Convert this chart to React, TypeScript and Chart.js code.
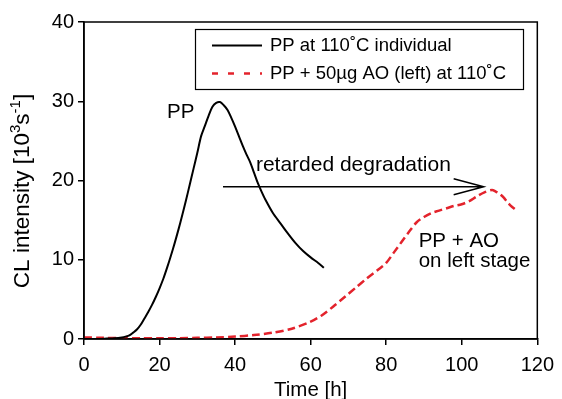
import React, { useEffect, useRef } from "react";
import { Chart, registerables } from "chart.js";

Chart.register(...registerables);

const ppTime = [0, 2, 4, 6, 8, 10, 11, 12, 13, 14, 15, 16, 17, 18, 19, 20, 21, 22, 23, 24, 25, 26, 27, 28, 29, 30, 31, 32, 33, 34, 35, 36, 37, 38, 39, 40, 41, 42, 43, 44, 45, 46, 47, 48, 50, 52, 54, 56, 58, 60, 62, 63.5];
const ppValues = [0, 0, 0, 0.05, 0.1, 0.2, 0.3, 0.45, 0.8, 1.2, 1.8, 2.6, 3.4, 4.3, 5.3, 6.4, 7.6, 9.0, 10.5, 12.1, 13.8, 15.6, 17.5, 19.5, 21.5, 23.5, 25.6, 26.9, 28.2, 29.3, 29.8, 29.9, 29.5, 28.9, 27.9, 26.8, 25.6, 24.4, 23.3, 22.3, 21.0, 19.7, 18.6, 17.6, 15.9, 14.6, 13.3, 12.1, 11.1, 10.3, 9.6, 9.0];

const aoTime = [0, 5, 10, 15, 20, 25, 30, 35, 40, 45, 50, 55, 60, 63, 66, 69, 72, 75, 78, 80, 82, 84, 86, 88, 90, 92, 94, 96, 98, 100, 102, 104, 106, 108, 109, 110, 111, 112, 113, 114];
const aoValues = [0.2, 0.15, 0.1, 0.1, 0.1, 0.1, 0.15, 0.2, 0.3, 0.5, 0.8, 1.3, 2.2, 3.0, 4.1, 5.3, 6.5, 7.7, 8.8, 9.6, 10.9, 12.2, 13.5, 14.7, 15.4, 15.9, 16.2, 16.5, 16.8, 17.0, 17.4, 18.0, 18.5, 18.8, 18.6, 18.3, 17.9, 17.3, 16.8, 16.4];

const seriesLabels = ["PP at 110˚C individual", "PP + 50µg AO (left) at 110˚C"];
const xTicks = [0, 20, 40, 60, 80, 100, 120];
const yTicks = [0, 10, 20, 30, 40];

const arrowFrom = { x: 36.8, y: 19.2 };
const arrowTo = { x: 105.8, y: 19.2 };

const RED = "#e3232c";
const FONT = "'Liberation Sans', Arial, sans-serif";

const overlayPlugin = {
  id: "overlay",
  afterDraw(chart: any) {
    const ctx = chart.ctx as CanvasRenderingContext2D;
    const { left, right, top, bottom } = chart.chartArea;
    const xs = chart.scales.x;
    const ys = chart.scales.y;
    ctx.save();
    // frame
    ctx.strokeStyle = "#000";
    ctx.lineWidth = 1.5;
    ctx.strokeRect(left, top, right - left, bottom - top);

    // legend box
    ctx.lineWidth = 1.2;
    ctx.strokeRect(195.5, 29.5, 328, 60);
    ctx.lineWidth = 2;
    ctx.beginPath();
    ctx.moveTo(212, 45.5);
    ctx.lineTo(262, 45.5);
    ctx.stroke();
    ctx.strokeStyle = RED;
    ctx.lineWidth = 2.5;
    ctx.setLineDash([6, 10]);
    ctx.beginPath();
    ctx.moveTo(212, 73.5);
    ctx.lineTo(262, 73.5);
    ctx.stroke();
    ctx.setLineDash([]);
    ctx.fillStyle = "#000";
    ctx.font = `18.5px ${FONT}`;
    ctx.textBaseline = "middle";
    ctx.textAlign = "left";
    ctx.fillText(seriesLabels[0], 270, 46);
    ctx.fillText(seriesLabels[1], 270, 74);

    // arrow
    const ax1 = xs.getPixelForValue(arrowFrom.x);
    const ax2 = xs.getPixelForValue(arrowTo.x);
    const ay = ys.getPixelForValue(arrowFrom.y);
    ctx.strokeStyle = "#000";
    ctx.lineWidth = 1.5;
    ctx.beginPath();
    ctx.moveTo(ax1, ay);
    ctx.lineTo(ax2, ay);
    ctx.moveTo(ax2 - 30, ay - 8);
    ctx.lineTo(ax2, ay);
    ctx.lineTo(ax2 - 30, ay + 8);
    ctx.stroke();

    // annotations
    ctx.font = `20.5px ${FONT}`;
    ctx.textBaseline = "alphabetic";
    ctx.fillText("PP", xs.getPixelForValue(22.0), ys.getPixelForValue(27.9));
    ctx.font = `21px ${FONT}`;
    ctx.fillText("retarded degradation", xs.getPixelForValue(45.5), ys.getPixelForValue(21.2));
    ctx.font = `20.5px ${FONT}`;
    ctx.fillText("PP + AO", xs.getPixelForValue(88.6), ys.getPixelForValue(11.65));
    ctx.fillText("on left stage", xs.getPixelForValue(88.6), ys.getPixelForValue(9.1));

    // x title
    ctx.font = `20.5px ${FONT}`;
    ctx.textAlign = "center";
    ctx.fillText("Time [h]", (left + right) / 2, 396);

    // y title with superscripts
    ctx.translate(23, 191);
    ctx.rotate(-Math.PI / 2);
    const parts: [string, boolean][] = [
      ["CL intensity [10", false],
      ["3", true],
      ["s", false],
      ["-1", true],
      ["]", false],
    ];
    const big = `22.5px ${FONT}`;
    const small = `15px ${FONT}`;
    let total = 0;
    for (const [t, sup] of parts) {
      ctx.font = sup ? small : big;
      total += ctx.measureText(t).width;
    }
    let x = -total / 2;
    ctx.textAlign = "left";
    ctx.textBaseline = "middle";
    for (const [t, sup] of parts) {
      ctx.font = sup ? small : big;
      ctx.fillText(t, x, sup ? -7 : 0);
      x += ctx.measureText(t).width;
    }
    ctx.restore();
  },
};

export default function App() {
  const ref = useRef<HTMLCanvasElement>(null);
  useEffect(() => {
    document.body.style.margin = "0";
    const canvas = ref.current!;
    const chart = new Chart(canvas, {
      type: "line",
      data: {
        datasets: [
          {
            label: seriesLabels[0],
            data: ppTime.map((t, i) => ({ x: t, y: ppValues[i] })),
            borderColor: "#000",
            borderWidth: 2,
            pointRadius: 0,
            tension: 0.3,
            fill: false,
          },
          {
            label: seriesLabels[1],
            data: aoTime.map((t, i) => ({ x: t, y: aoValues[i] })),
            borderColor: RED,
            borderWidth: 2.5,
            borderDash: [8, 4],
            pointRadius: 0,
            tension: 0.3,
            fill: false,
          },
        ],
      },
      options: {
        responsive: false,
        animation: false,
        layout: { padding: { left: 0, top: 22, right: 23, bottom: 0 } },
        plugins: { legend: { display: false }, tooltip: { enabled: false } },
        scales: {
          x: {
            type: "linear",
            min: 0,
            max: 120,
            afterFit: (s: any) => { s.height = 60; },
            afterBuildTicks: (s: any) => { s.ticks = xTicks.map((v) => ({ value: v })); },
            grid: { drawOnChartArea: false, drawTicks: true, tickLength: 6, color: "#000", lineWidth: 1.5 },
            border: { display: true, color: "#000", width: 1.5 },
            ticks: { color: "#000", font: { family: FONT, size: 20 }, padding: 8, maxRotation: 0 },
          },
          y: {
            type: "linear",
            min: 0,
            max: 40,
            afterFit: (s: any) => { s.width = 84; },
            afterBuildTicks: (s: any) => { s.ticks = yTicks.map((v) => ({ value: v })); },
            grid: { drawOnChartArea: false, drawTicks: true, tickLength: 6, color: "#000", lineWidth: 1.5 },
            border: { display: true, color: "#000", width: 1.5 },
            ticks: { color: "#000", font: { family: FONT, size: 20 }, padding: 4 },
          },
        },
      },
      plugins: [overlayPlugin],
    } as any);
    return () => chart.destroy();
  }, []);
  return <canvas ref={ref} width={562} height={399} style={{ display: "block" }} />;
}
